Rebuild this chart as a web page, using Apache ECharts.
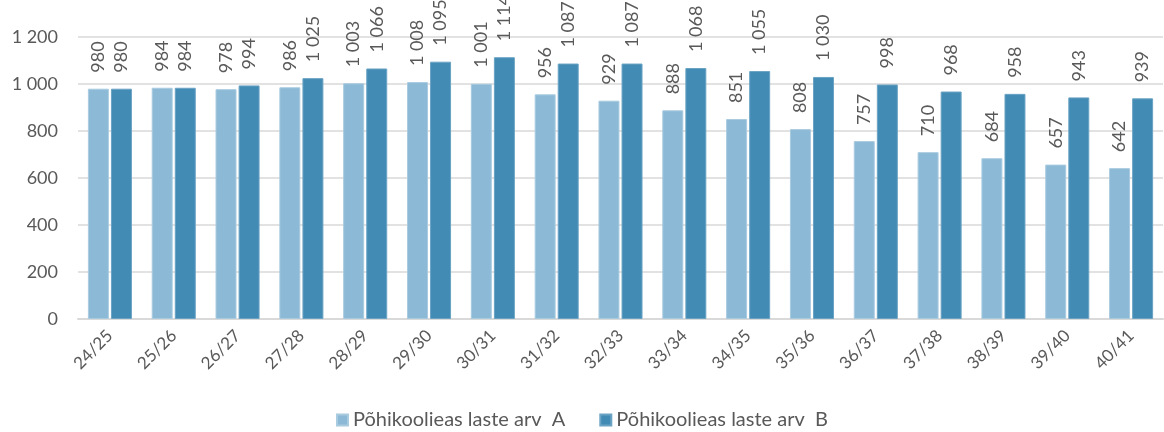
<!DOCTYPE html>
<html lang="et">
<head>
    <meta charset="UTF-8">
    <title>Põhikoolieas laste arv</title>
    <style>
        html,body{margin:0;padding:0;background:#fff;}
        #main{width:1164px;height:432px;}
    </style>
</head>
<body>
<div id="main"></div>
<script src="https://cdn.jsdelivr.net/npm/echarts@6/dist/echarts.min.js"></script>
<script>
    const categories = ['24/25','25/26','26/27','27/28','28/29','29/30','30/31','31/32','32/33','33/34','34/35','35/36','36/37','37/38','38/39','39/40','40/41'];
    const seriesA = [980,984,978,986,1003,1008,1001,956,929,888,851,808,757,710,684,657,642];
    const seriesB = [980,984,994,1025,1066,1095,1114,1087,1087,1068,1055,1030,998,968,958,943,939];
    const nameA = 'Põhikoolieas laste arv  A';
    const nameB = 'Põhikoolieas laste arv  B';

    const font = 'Lato, "Open Sans", sans-serif';
    const textColor = '#595959';

    // tuhandete eraldaja tühikuga
    function fmt(v){
        return String(v).replace(/\B(?=(\d{3})+(?!\d))/g, ' ');
    }

    const myChart = echarts.init(document.getElementById('main'));

    const barLabel = {
        show: true,
        position: 'top',
        rotate: 90,
        align: 'left',
        verticalAlign: 'middle',
        distance: 16,
        color: textColor,
        fontFamily: font,
        fontSize: 18,
        formatter: p => fmt(p.value)
    };

    const option = {
        animation: false,
        grid: {left: 78, right: 1, top: 37, bottom: 113},
        legend: {
            top: 405,
            left: 'center',
            itemWidth: 11,
            itemHeight: 11,
            itemGap: 34,
            icon: 'rect',
            textStyle: {color: textColor, fontFamily: font, fontSize: 20},
            data: [nameA, nameB]
        },
        xAxis: {
            type: 'category',
            data: categories,
            axisTick: {show: false},
            axisLine: {lineStyle: {color: '#d9d9d9', width: 2}},
            axisLabel: {
                rotate: 45,
                interval: 0,
                color: textColor,
                fontFamily: font,
                fontSize: 17,
                margin: 14
            }
        },
        yAxis: {
            type: 'value',
            min: 0,
            max: 1200,
            interval: 200,
            axisLine: {show: false},
            axisTick: {show: false},
            splitLine: {lineStyle: {color: '#d9d9d9', width: 1.5}},
            axisLabel: {
                color: textColor,
                fontFamily: font,
                fontSize: 18,
                margin: 20,
                formatter: v => fmt(v)
            }
        },
        series: [
            {
                name: nameA,
                type: 'bar',
                data: seriesA,
                barGap: '10%',
                barCategoryGap: '31%',
                itemStyle: {color: '#8cb9d5', borderColor: '#a9cbe0', borderWidth: 1},
                label: barLabel
            },
            {
                name: nameB,
                type: 'bar',
                data: seriesB,
                itemStyle: {color: '#428bb4', borderColor: '#6aa3c4', borderWidth: 1},
                label: barLabel
            }
        ]
    };

    myChart.setOption(option);
</script>
</body>
</html>
